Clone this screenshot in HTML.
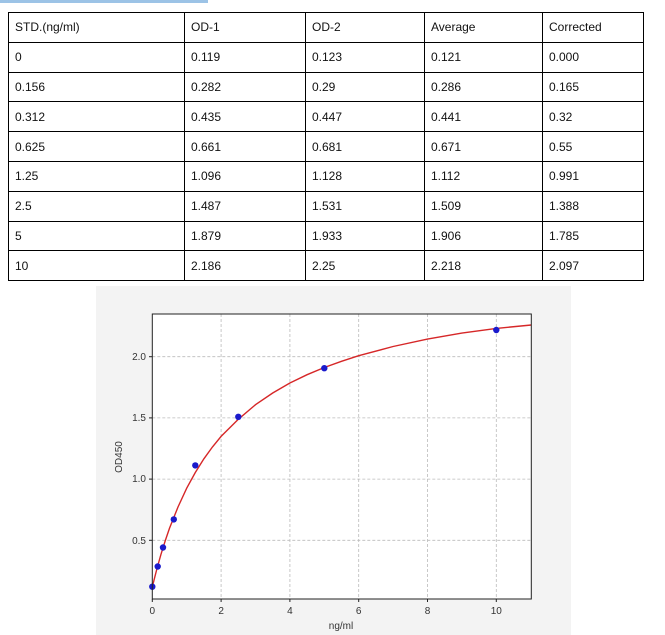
<!DOCTYPE html>
<html><head><style>
body{margin:0;width:665px;height:635px;background:#fff;position:relative;overflow:hidden;font-family:"Liberation Sans",sans-serif}
.bar{position:absolute;left:0;top:0;width:208px;height:3px;background:#9cc3e6}
table{position:absolute;left:8px;top:12px;border-collapse:collapse;width:636px;font-size:12px;color:#111}
td{border:1.3px solid #000;height:29.8px;padding:0 0 0 6px;box-sizing:border-box}
.panel{position:absolute;left:96px;top:286px;width:475px;height:349px;background:#f3f3f3}
svg{position:absolute;left:0;top:0}
</style></head><body>
<div class="bar"></div>
<table>
<colgroup><col style="width:176px"><col style="width:121px"><col style="width:119px"><col style="width:118px"><col></colgroup>
<tr><td>STD.(ng/ml)</td><td>OD-1</td><td>OD-2</td><td>Average</td><td>Corrected</td></tr>
<tr><td>0</td><td>0.119</td><td>0.123</td><td>0.121</td><td>0.000</td></tr>
<tr><td>0.156</td><td>0.282</td><td>0.29</td><td>0.286</td><td>0.165</td></tr>
<tr><td>0.312</td><td>0.435</td><td>0.447</td><td>0.441</td><td>0.32</td></tr>
<tr><td>0.625</td><td>0.661</td><td>0.681</td><td>0.671</td><td>0.55</td></tr>
<tr><td>1.25</td><td>1.096</td><td>1.128</td><td>1.112</td><td>0.991</td></tr>
<tr><td>2.5</td><td>1.487</td><td>1.531</td><td>1.509</td><td>1.388</td></tr>
<tr><td>5</td><td>1.879</td><td>1.933</td><td>1.906</td><td>1.785</td></tr>
<tr><td>10</td><td>2.186</td><td>2.25</td><td>2.218</td><td>2.097</td></tr>
</table>
<div class="panel"></div>
<svg width="665" height="635" font-family="Liberation Sans, sans-serif" font-size="10" fill="#333">
<rect x="152.3" y="314" width="379" height="285" fill="#fff"/>
<g stroke="#bbb" stroke-width="0.8" stroke-dasharray="3,2">
<line x1="221.1" y1="314" x2="221.1" y2="599"/><line x1="289.9" y1="314" x2="289.9" y2="599"/>
<line x1="358.7" y1="314" x2="358.7" y2="599"/><line x1="427.5" y1="314" x2="427.5" y2="599"/>
<line x1="496.3" y1="314" x2="496.3" y2="599"/>
<line x1="152.3" y1="356.7" x2="531.3" y2="356.7"/><line x1="152.3" y1="417.9" x2="531.3" y2="417.9"/>
<line x1="152.3" y1="479.1" x2="531.3" y2="479.1"/><line x1="152.3" y1="540.3" x2="531.3" y2="540.3"/>
</g>
<polyline fill="none" stroke="#d62728" stroke-width="1.4" points="152.3,586.8 156.6,570 160.9,554.6 165.2,540.9 169.5,528.3 178,507 186.7,488.2 195.3,472.5 203.9,458.8 212.5,446.9 221.1,436.4 238.3,419.3 255.5,404.7 272.7,393 289.9,383 307.1,374.7 324.3,367.5 341.5,361.3 358.7,355.7 393.1,346.5 427.5,339.1 461.9,333.1 496.3,328.4 531.3,325"/>
<g fill="#1a1acc">
<circle cx="152.3" cy="586.7" r="3.2"/><circle cx="157.7" cy="566.5" r="3.2"/><circle cx="163" cy="547.5" r="3.2"/>
<circle cx="173.8" cy="519.4" r="3.2"/><circle cx="195.3" cy="465.4" r="3.2"/><circle cx="238.3" cy="416.8" r="3.2"/>
<circle cx="324.3" cy="368.2" r="3.2"/><circle cx="496.3" cy="330" r="3.2"/>
</g>
<rect x="152.3" y="314" width="379" height="285" fill="none" stroke="#222" stroke-width="1"/>
<g stroke="#222"><line x1="152.3" y1="599" x2="152.3" y2="602"/><line x1="221.1" y1="599" x2="221.1" y2="602"/><line x1="289.9" y1="599" x2="289.9" y2="602"/><line x1="358.7" y1="599" x2="358.7" y2="602"/><line x1="427.5" y1="599" x2="427.5" y2="602"/><line x1="496.3" y1="599" x2="496.3" y2="602"/>
<line x1="149" y1="356.7" x2="152.3" y2="356.7"/><line x1="149" y1="417.9" x2="152.3" y2="417.9"/><line x1="149" y1="479.1" x2="152.3" y2="479.1"/><line x1="149" y1="540.3" x2="152.3" y2="540.3"/></g>
<g text-anchor="middle"><text x="152.3" y="614">0</text><text x="221.1" y="614">2</text><text x="289.9" y="614">4</text><text x="358.7" y="614">6</text><text x="427.5" y="614">8</text><text x="496.3" y="614">10</text>
<text x="341" y="629">ng/ml</text></g>
<g text-anchor="end"><text x="146" y="360">2.0</text><text x="146" y="421">1.5</text><text x="146" y="482">1.0</text><text x="146" y="544">0.5</text></g>
<text transform="translate(122,457) rotate(-90)" text-anchor="middle">OD450</text>
</svg>
</body></html>
